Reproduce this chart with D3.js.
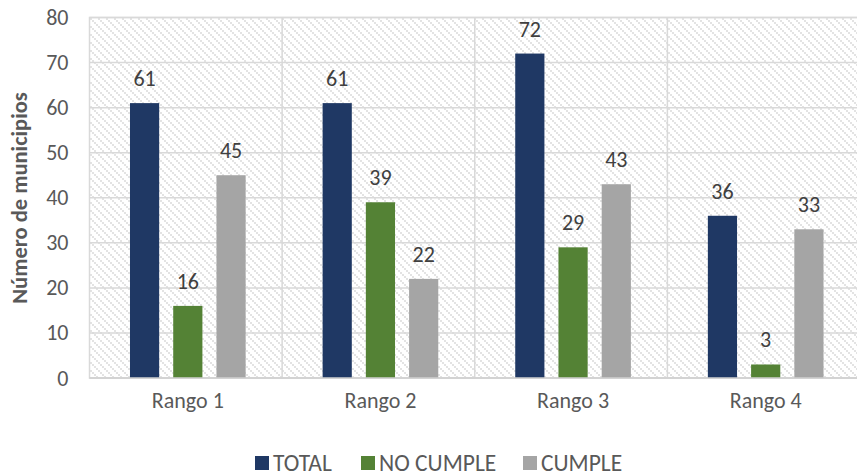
<!DOCTYPE html>
<html>
<head>
<meta charset="utf-8">
<script src="https://cdn.jsdelivr.net/npm/d3@7/dist/d3.min.js"></script>
<style>
  html, body { margin: 0; padding: 0; background: #fff; }
  svg { display: block; font-family: Calibri, Carlito, Lato, sans-serif; }
</style>
</head>
<body>
<svg id="chart" width="857" height="475"></svg>
<script>
// Municipios por rango
const categories = ["Rango 1", "Rango 2", "Rango 3", "Rango 4"];
const seriesNames = ["TOTAL", "NO CUMPLE", "CUMPLE"];
const totalValues = [61, 61, 72, 36];
const noCumpleValues = [16, 39, 29, 3];
const cumpleValues = [45, 22, 43, 33];
const yTicks = [0, 10, 20, 30, 40, 50, 60, 70, 80];
const colors = ["#1F3864", "#548235", "#A5A5A5"];

const seriesValues = [totalValues, noCumpleValues, cumpleValues];

const svg = d3.select("#chart");
const plot = { left: 89.5, right: 860, top: 17.5, bottom: 378 };
const textColor = "#595959";

const defs = svg.append("defs");
const pat = defs.append("pattern")
  .attr("id", "hatch")
  .attr("patternUnits", "userSpaceOnUse")
  .attr("width", 8).attr("height", 8);
pat.append("rect").attr("width", 8).attr("height", 8).attr("fill", "#fff");
[0, 2, 4, 6].forEach(i => {
  pat.append("rect").attr("x", i).attr("y", i).attr("width", 2).attr("height", 2).attr("fill", "#e3e3e3");
});

const x0 = d3.scaleBand().domain(categories).range([plot.left + 2, plot.right + 2]).padding(0);
const x1 = d3.scaleBand().domain(seriesNames).range([0, x0.bandwidth()])
  .paddingInner(0.325).paddingOuter(0.89);
const y = d3.scaleLinear().domain([0, 80]).range([plot.bottom, plot.top]);

// Plot area background
svg.append("rect")
  .attr("x", plot.left).attr("y", plot.top)
  .attr("width", plot.right - plot.left).attr("height", plot.bottom - plot.top)
  .attr("fill", "url(#hatch)")
  .attr("stroke", "#d9d9d9").attr("stroke-width", 1.5);

// Horizontal gridlines
svg.append("g").selectAll("line").data(yTicks).join("line")
  .attr("x1", plot.left).attr("x2", plot.right)
  .attr("y1", d => y(d)).attr("y2", d => y(d))
  .attr("stroke", "#d9d9d9").attr("stroke-width", 1.5);

// Vertical category separators
svg.append("g").selectAll("line").data(categories.slice(1)).join("line")
  .attr("x1", d => x0(d) - 2).attr("x2", d => x0(d) - 2)
  .attr("y1", plot.top).attr("y2", plot.bottom)
  .attr("stroke", "#d9d9d9").attr("stroke-width", 1.5);

// Bars
const groups = svg.append("g").selectAll("g").data(categories).join("g")
  .attr("transform", d => `translate(${x0(d)},0)`);

groups.each(function(cat, ci) {
  const g = d3.select(this);
  const rows = seriesNames.map((s, si) => ({ s, si, v: seriesValues[si][ci] }));
  g.selectAll("rect").data(rows).join("rect")
    .attr("x", d => x1(d.s))
    .attr("y", d => y(d.v))
    .attr("width", x1.bandwidth())
    .attr("height", d => y(0) - y(d.v))
    .attr("fill", d => colors[d.si]);
  g.selectAll("text").data(rows).join("text")
    .attr("x", d => x1(d.s) + x1.bandwidth() / 2)
    .attr("y", d => y(d.v) - 17)
    .attr("text-anchor", "middle")
    .attr("font-size", 22)
    .attr("fill", "#404040")
    .text(d => d.v);
});

// Bottom axis line
svg.append("line")
  .attr("x1", plot.left).attr("x2", plot.right)
  .attr("y1", plot.bottom).attr("y2", plot.bottom)
  .attr("stroke", "#d0d0d0").attr("stroke-width", 1.5);

// Y axis labels
const yAxis = d3.axisLeft(y).tickValues(yTicks).tickSize(0).tickPadding(21);
svg.append("g").attr("transform", `translate(${plot.left},0)`).call(yAxis)
  .call(g => g.select(".domain").remove())
  .call(g => g.selectAll("text").attr("font-size", 22).attr("fill", textColor)
    .attr("font-family", "Calibri, Carlito, Lato, sans-serif"));

// X axis labels
const xAxis = d3.axisBottom(x0).tickSize(0).tickPadding(14);
svg.append("g").attr("transform", `translate(0,${plot.bottom})`).call(xAxis)
  .call(g => g.select(".domain").remove())
  .call(g => g.selectAll("text").attr("font-size", 22).attr("fill", textColor)
    .attr("font-family", "Calibri, Carlito, Lato, sans-serif"));

// Y axis title
svg.append("text")
  .attr("transform", `translate(27,198) rotate(-90)`)
  .attr("text-anchor", "middle")
  .attr("font-size", 22.5).attr("font-weight", "bold")
  .attr("fill", textColor)
  .text("Número de municipios");

// Legend
const legendX = [255, 361, 523];
const legend = svg.append("g").selectAll("g").data(seriesNames).join("g")
  .attr("transform", (d, i) => `translate(${legendX[i]},456)`);
legend.append("rect").attr("width", 14).attr("height", 14).attr("fill", (d, i) => colors[i]);
legend.append("text").attr("x", 18).attr("y", 14.5)
  .attr("font-size", 23.5).attr("fill", textColor).text(d => d);
</script>
</body>
</html>
